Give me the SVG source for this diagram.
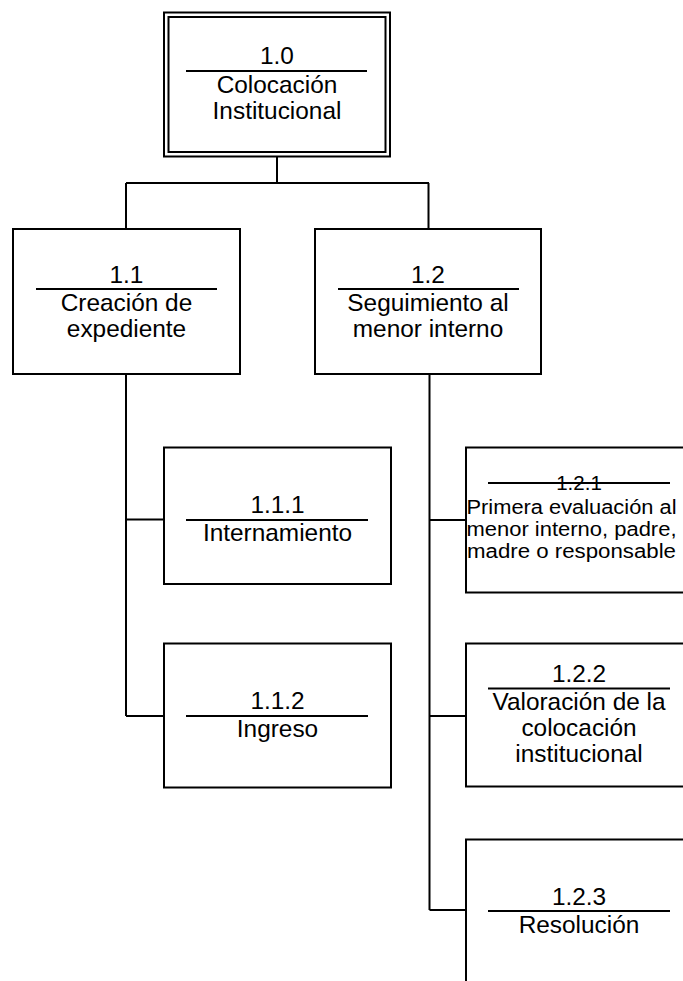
<svg xmlns="http://www.w3.org/2000/svg" width="683" height="981" viewBox="0 0 683 981">
  <style>
    .box { fill: #ffffff; stroke: #000000; stroke-width: 2; }
    .rule { stroke: #000000; stroke-width: 2; fill: none; }
    .wire { stroke: #000000; stroke-width: 2; fill: none; }
    text { font-family: "Liberation Sans", Arial, sans-serif; font-size: 24.4px; fill: #000000; text-anchor: middle; }
    text.small { font-size: 19.5px; }
    text.num { font-size: 20.5px; }
  </style>

  <!-- connectors -->
  <g id="connectors">
    <path class="wire" d="M277 157 V183 M126 183 H429 M126 183 V229 M428.5 183 V229"/>
    <path class="wire" d="M126 374 V716 M126 519.5 H164 M126 716 H164"/>
    <path class="wire" d="M429.5 374 V910 M429.5 520 H466 M429.5 716 H466 M429.5 910 H466"/>
  </g>

  <!-- 1.0 -->
  <g id="node-1-0">
    <rect class="box" x="164" y="12.5" width="226" height="144"/>
    <rect class="box" x="168.5" y="17" width="217" height="135"/>
    <line class="rule" x1="186" y1="71" x2="367" y2="71"/>
    <text x="277" y="64">1.0</text>
    <text x="277" y="93">Colocación</text>
    <text x="277" y="119">Institucional</text>
  </g>

  <!-- 1.1 -->
  <g id="node-1-1">
    <rect class="box" x="13" y="229" width="227" height="145"/>
    <line class="rule" x1="36" y1="289" x2="217" y2="289"/>
    <text x="126.5" y="282.5">1.1</text>
    <text x="126.5" y="311">Creación de</text>
    <text x="126.5" y="337">expediente</text>
  </g>

  <!-- 1.2 -->
  <g id="node-1-2">
    <rect class="box" x="315" y="229" width="226" height="145"/>
    <line class="rule" x1="338" y1="289" x2="519" y2="289"/>
    <text x="428" y="282.5">1.2</text>
    <text x="428" y="311">Seguimiento al</text>
    <text x="428" y="337">menor interno</text>
  </g>

  <!-- 1.1.1 -->
  <g id="node-1-1-1">
    <rect class="box" x="164" y="447.5" width="227" height="136.5"/>
    <line class="rule" x1="186" y1="520" x2="368" y2="520"/>
    <text x="277.5" y="513">1.1.1</text>
    <text x="277.5" y="541">Internamiento</text>
  </g>

  <!-- 1.1.2 -->
  <g id="node-1-1-2">
    <rect class="box" x="164" y="643.5" width="227" height="144"/>
    <line class="rule" x1="186" y1="716" x2="368" y2="716"/>
    <text x="277.5" y="709">1.1.2</text>
    <text x="277.5" y="737">Ingreso</text>
  </g>

  <!-- 1.2.1 (smaller, widened lettering) -->
  <g id="node-1-2-1">
    <rect class="box" x="466" y="447.5" width="227" height="145"/>
    <text class="num" x="579" y="490">1.2.1</text>
    <line class="rule" x1="488" y1="483" x2="670" y2="483"/>
    <text class="small" x="571.5" y="514" textLength="210" lengthAdjust="spacingAndGlyphs">Primera evaluación al</text>
    <text class="small" x="571.5" y="536" textLength="210" lengthAdjust="spacingAndGlyphs">menor interno, padre,</text>
    <text class="small" x="571.5" y="558" textLength="209" lengthAdjust="spacingAndGlyphs">madre o responsable</text>
  </g>

  <!-- 1.2.2 -->
  <g id="node-1-2-2">
    <rect class="box" x="466" y="643.5" width="227" height="143"/>
    <line class="rule" x1="488" y1="688.5" x2="670" y2="688.5"/>
    <text x="579" y="682">1.2.2</text>
    <text x="579" y="710">Valoración de la</text>
    <text x="579" y="736">colocación</text>
    <text x="579" y="762">institucional</text>
  </g>

  <!-- 1.2.3 -->
  <g id="node-1-2-3">
    <rect class="box" x="466" y="839.5" width="227" height="150"/>
    <line class="rule" x1="488" y1="911" x2="670" y2="911"/>
    <text x="579" y="905">1.2.3</text>
    <text x="579" y="933">Resolución</text>
  </g>
</svg>
